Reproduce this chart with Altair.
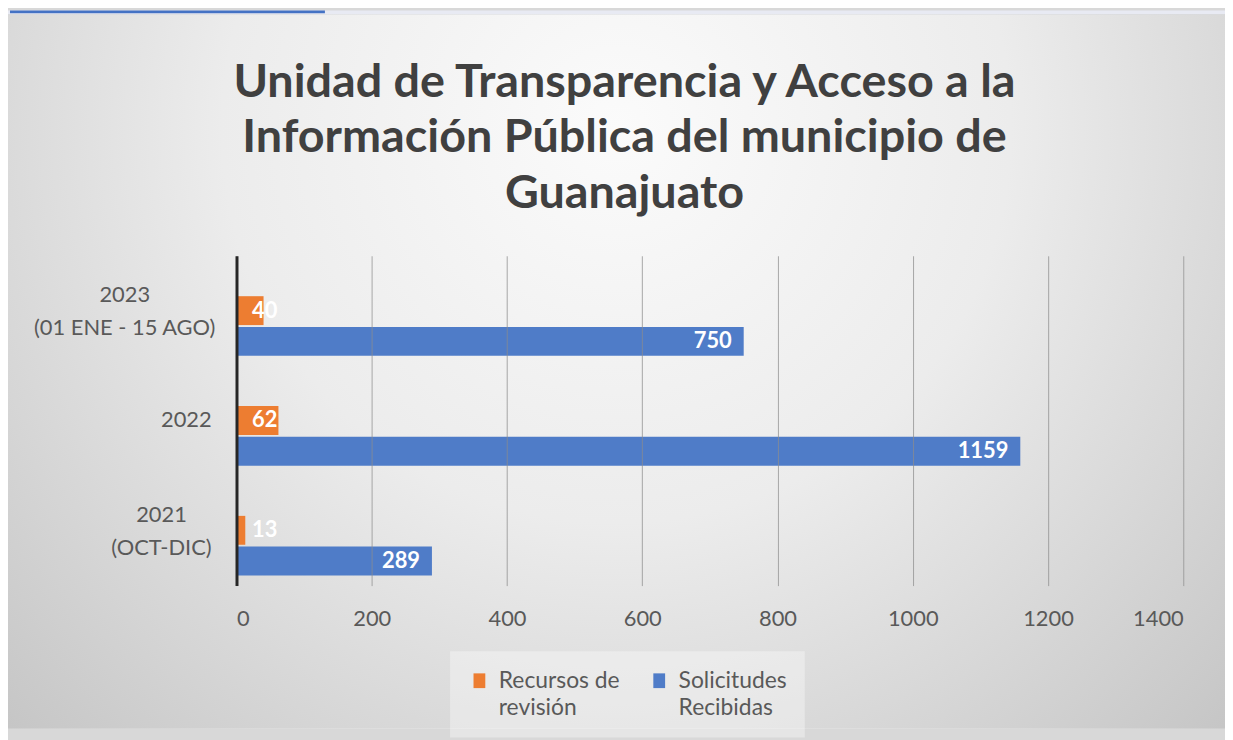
import altair as alt
import pandas as pd

# ---------------- data ----------------
categories = ["2023|(01 ENE - 15 AGO)", "2022", "2021|(OCT-DIC)"]
series = ["Recursos de revisión", "Solicitudes Recibidas"]
recursos = [40, 62, 13]
solicitudes = [750, 1159, 289]
x_ticks = [0, 200, 400, 600, 800, 1000, 1200, 1400]
title_lines = [
    "Unidad de Transparencia y Acceso a la",
    "Información Pública del municipio de",
    "Guanajuato",
]
legend_lines = {series[0]: ["Recursos de", "revisión"], series[1]: ["Solicitudes", "Recibidas"]}

rows = []
for c, r, s in zip(categories, recursos, solicitudes):
    rows.append({"cat": c, "series": series[0], "value": r})
    rows.append({"cat": c, "series": series[1], "value": s})
df = pd.DataFrame(rows)

# ---------------- style ----------------
FONT = "Lato"
ORANGE = "#ED7D31"
BLUE = "#4F7CC8"
TXT = "#595959"
W, H = 953, 332

# y-axis multi-line labels, lines centred, blocks right-aligned near the axis
parts = []
for c in categories:
    if "|" in c:
        a, b = c.split("|")
        parts.append(f"datum.value == '{c}' ? ['{a}', '{b}']")
label_expr = " : ".join(parts) + " : datum.value"
# half widths of each label block (for centred lines)
pad_by_cat = {categories[0]: 113, categories[1]: 51, categories[2]: 76}
label_pad = {
    "condition": [{"test": f"datum.value == '{c}'", "value": v} for c, v in pad_by_cat.items()],
    "value": 25,
}

leg_parts = [f"datum.label == '{k}' ? ['{v[0]}', '{v[1]}']" for k, v in legend_lines.items()]
legend_expr = " : ".join(leg_parts) + " : datum.label"

y_enc = alt.Y(
    "cat:N",
    title=None,
    scale=alt.Scale(domain=categories, paddingInner=0.457, paddingOuter=0.23, align=0.8),
    axis=alt.Axis(
        labelExpr=label_expr,
        labelFont=FONT,
        labelFontSize=22,
        labelColor=TXT,
        labelLineHeight=33,
        labelAlign="center",
        labelPadding=label_pad,
        labelLimit=400,
        labelOffset={"condition": {"test": "indexof(datum.value, '|') >= 0", "value": -31}, "value": -16},
        ticks=False,
        grid=False,
        domainColor="#262626",
        domainWidth=3,
        zindex=1,
    ),
)
yoff_enc = alt.YOffset("series:N", scale=alt.Scale(domain=series, paddingInner=0.06))
x_scale = alt.Scale(domain=[0, 1400], nice=False, zero=True)
x_axis = alt.Axis(
    values=x_ticks,
    format="d",
    labelFont=FONT,
    labelFontSize=22,
    labelColor=TXT,
    labelPadding=23,
    ticks=False,
    domain=False,
    grid=True,
    gridColor="#8c8c8c",
    gridOpacity=0.75,
    gridWidth=1,
    zindex=1,
)

base = alt.Chart(df)

bars = base.mark_bar().encode(
    y=y_enc,
    yOffset=yoff_enc,
    x=alt.X("value:Q", title=None, scale=x_scale, axis=x_axis),
    color=alt.Color(
        "series:N",
        scale=alt.Scale(domain=series, range=[ORANGE, BLUE]),
        legend=alt.Legend(
            orient="none",
            legendX=215,
            legendY=398,
            direction="horizontal",
            title=None,
            labelExpr=legend_expr,
            labelFont=FONT,
            labelFontSize=23,
            labelColor=TXT,
            labelLimit=300,
            labelOffset=8,
            symbolType="M-0.8,-1L0.8,-1L0.8,1L-0.8,1Z",
            symbolSize=220,
            symbolStrokeWidth=0,
            columnPadding=28,
            padding=18,
            fillColor="rgba(255,255,255,0.35)",
        ),
    ),
)

blue_labels = (
    base.transform_filter(alt.datum.series == series[1])
    .mark_text(align="right", baseline="middle", dx=-12, color="white", fontWeight="bold", fontSize=22, font=FONT)
    .encode(y=y_enc, yOffset=yoff_enc, x=alt.X("value:Q", scale=x_scale), text="value:Q")
)
orange_labels = (
    base.transform_filter(alt.datum.series == series[0])
    .transform_joinaggregate(maxv="max(value)")
    .mark_text(align="right", baseline="middle", dx=-1, color="white", fontWeight="bold", fontSize=22, font=FONT)
    .encode(y=y_enc, yOffset=yoff_enc, x=alt.X("maxv:Q", scale=x_scale), text="value:Q")
)

# ---------------- decoration: chart-area background ----------------
one = pd.DataFrame({"k": [0]})
grad = alt.Gradient(
    gradient="radial",
    x1=0.5, y1=0.3, r1=0, x2=0.5, y2=0.3, r2=0.72,
    stops=[
        alt.GradientStop(offset=0, color="#fbfbfb"),
        alt.GradientStop(offset=0.45, color="#ececec"),
        alt.GradientStop(offset=1, color="#c4c4c4"),
    ],
)
bg = alt.Chart(one).mark_rect(fill=grad).encode(
    x=alt.value(-230), x2=alt.value(995), y=alt.value(-243), y2=alt.value(476)
)
strip_light = alt.Chart(one).mark_rect(fill="#e8eaf3").encode(
    x=alt.value(-230), x2=alt.value(995), y=alt.value(-247), y2=alt.value(-243)
)
strip_blue = alt.Chart(one).mark_rect(fill="#4472C4").encode(
    x=alt.value(-228), x2=alt.value(89), y=alt.value(-247), y2=alt.value(-244)
)

chart = (
    alt.layer(bg, strip_light, strip_blue, bars, orange_labels, blue_labels)
    .properties(
        width=W,
        height=H,
        padding=0,
        title=alt.TitleParams(
            text=title_lines,
            font=FONT,
            fontSize=47,
            fontWeight="bold",
            color="#404040",
            anchor="middle",
            frame="group",
            dx=-86,
            offset=-209,
            lineHeight=56,
        ),
    )
    .configure_view(stroke=None)
    .configure(background="#d8d8d8", style={"guide-label": {"lineHeight": 27}})
)

chart.save("out.html", embed_options={"renderer": "svg", "actions": False})
